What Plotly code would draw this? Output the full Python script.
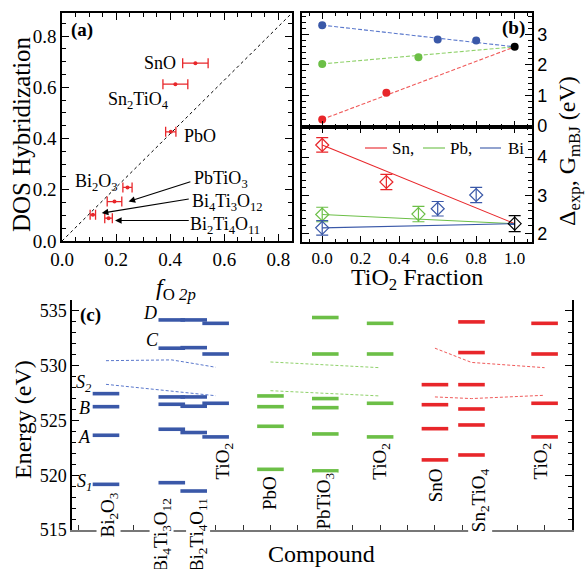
import plotly.graph_objects as go

W, H = 585, 569
SERIF = "Liberation Serif"
SANS = "Liberation Sans"
RED = "#e8262a"
GREEN = "#6cbf47"
BLUE = "#3a58a8"
BLACK = "#000000"
RED_D = "#f05a5a"
GREEN_D = "#8fd16a"
BLUE_D = "#5a78cc"

# ---------------- panel (a) data ----------------
a_names = ["SnO", "Sn<sub>2</sub>TiO<sub>4</sub>", "PbO", "Bi<sub>2</sub>O<sub>3</sub>",
           "PbTiO<sub>3</sub>", "Bi<sub>4</sub>Ti<sub>3</sub>O<sub>12</sub>",
           "Bi<sub>2</sub>Ti<sub>4</sub>O<sub>11</sub>"]
a_fo2p = [0.493, 0.419, 0.402, 0.242, 0.194, 0.114, 0.172]
a_fo2p_err = [0.047, 0.046, 0.019, 0.017, 0.027, 0.010, 0.014]
a_dos = [0.694, 0.612, 0.426, 0.209, 0.154, 0.102, 0.089]
# label text positions (data coords)
a_lab_x = [0.363, 0.283, 0.511, 0.126, 0.589, 0.613, 0.604]
a_lab_y = [0.696, 0.549, 0.409, 0.227, 0.239, 0.149, 0.059]
# arrows: tip (x, y) and tail (ax, ay) for PbTiO3, Bi4Ti3O12, Bi2Ti4O11
arr_tip_x = [0.246, 0.147, 0.196]
arr_tip_y = [0.154, 0.109, 0.080]
arr_tail_x = [0.480, 0.474, 0.474]
arr_tail_y = [0.233, 0.165, 0.080]

# ---------------- panel (b) data ----------------
sn_frac = [0.0, 1 / 3]
sn_gmbj = [0.21, 1.08]
sn_exp = [4.32, 3.35]
sn_err = [0.19, 0.20]
pb_frac = [0.0, 0.5]
pb_gmbj = [2.03, 2.25]
pb_exp = [2.50, 2.51]
pb_err = [0.19, 0.20]
bi_frac = [0.0, 0.6, 0.8]
bi_gmbj = [3.30, 2.83, 2.80]
bi_exp = [2.15, 2.65, 3.01]
bi_err = [0.19, 0.19, 0.20]
tio2_frac = 1.0
tio2_gmbj = 2.59
tio2_exp = 2.26
tio2_err = 0.21
legend_names = ["Sn,", "Pb,", "Bi"]

# ---------------- panel (c) data ----------------
c_labels = ["Bi<sub>2</sub>O<sub>3</sub>", "Bi<sub>4</sub>Ti<sub>3</sub>O<sub>12</sub>",
            "Bi<sub>2</sub>Ti<sub>4</sub>O<sub>11</sub>", "TiO<sub>2</sub>",
            "PbO", "PbTiO<sub>3</sub>", "TiO<sub>2</sub>",
            "SnO", "Sn<sub>2</sub>TiO<sub>4</sub>", "TiO<sub>2</sub>"]
c_group = ["Bi", "Bi", "Bi", "Bi", "Pb", "Pb", "Pb", "Sn", "Sn", "Sn"]
c_tio2_frac = [0.0, 0.6, 0.8, 1.0, 0.0, 0.5, 1.0, 0.0, 1 / 3, 1.0]
group_start = {"Bi": 1, "Pb": 7, "Sn": 13}
c_levels = [
    [527.45, 526.26, 523.65, 519.17],
    [534.18, 531.60, 527.15, 526.48, 524.20, 519.32],
    [534.18, 531.65, 527.15, 526.30, 523.90, 518.56],
    [533.87, 531.07, 526.57, 523.50],
    [527.24, 526.26, 524.47, 520.54],
    [534.40, 531.07, 527.00, 526.17, 523.77, 520.40],
    [533.87, 531.07, 526.57, 523.50],
    [528.27, 526.44, 524.25, 521.40],
    [534.00, 531.20, 528.27, 526.05, 524.59, 521.85],
    [533.87, 531.07, 526.57, 523.50],
]
c_lab_x = [1.11, 3.01, 4.36, 5.31, 6.95, 8.99, 11.04, 13.01, 14.65, 16.91]
c_lab_top = [518.38, 517.92, 517.92, 522.95, 519.93, 520.2, 522.95, 520.66, 520.66, 522.95]
# dashed guide lines (upper, lower) per group, at each compound of the group
c_upper = {"Bi": [530.46, 530.53, 530.20, 529.86],
           "Pb": [530.34, 530.07, 529.82],
           "Sn": [531.60, 530.30, 529.82]}
c_lower = {"Bi": [528.30, 527.70, 527.50, 527.26],
           "Pb": [527.72, 527.48, 527.24],
           "Sn": [527.15, 527.00, 527.30]}
c_letters = ["D", "C", "S<sub>2</sub>", "B", "A", "S<sub>1</sub>"]
c_letter_x = [2.6, 2.7, 0.215, 0.23, 0.23, 0.215]
c_letter_y = [534.77, 532.35, 528.4, 526.14, 523.49, 519.3]

gcol = {"Bi": BLUE, "Pb": GREEN, "Sn": RED}
gdash = {"Bi": BLUE_D, "Pb": GREEN_D, "Sn": RED_D}

fig = go.Figure()

# ---- panel (a) ----
fig.add_trace(go.Scatter(
    x=a_fo2p, y=a_dos, mode="markers", marker=dict(color=RED, size=4),
    error_x=dict(type="data", array=a_fo2p_err, color=RED, thickness=1.3, width=5),
    xaxis="x", yaxis="y", showlegend=False))

# ---- panel (b) top ----
for frac, g, col, dcol in [(sn_frac, sn_gmbj, RED, RED_D), (pb_frac, pb_gmbj, GREEN, GREEN_D),
                           (bi_frac, bi_gmbj, BLUE, BLUE_D)]:
    fig.add_trace(go.Scatter(x=[frac[0], tio2_frac], y=[g[0], tio2_gmbj], mode="lines",
                             line=dict(color=dcol, width=1.1, dash="4px,2px"),
                             xaxis="x2", yaxis="y2", showlegend=False))
for frac, g, col in [(sn_frac, sn_gmbj, RED), (pb_frac, pb_gmbj, GREEN), (bi_frac, bi_gmbj, BLUE)]:
    fig.add_trace(go.Scatter(x=frac, y=g, mode="markers", marker=dict(color=col, size=8),
                             xaxis="x2", yaxis="y2", showlegend=False))
fig.add_trace(go.Scatter(x=[tio2_frac], y=[tio2_gmbj], mode="markers",
                         marker=dict(color=BLACK, size=8), xaxis="x2", yaxis="y2", showlegend=False))

# ---- panel (b) bottom ----
for frac, e, col in [(sn_frac, sn_exp, RED), (pb_frac, pb_exp, GREEN), (bi_frac, bi_exp, BLUE)]:
    fig.add_trace(go.Scatter(x=[frac[0], tio2_frac], y=[e[0], tio2_exp], mode="lines",
                             line=dict(color=col, width=1.1),
                             xaxis="x3", yaxis="y3", showlegend=False))
for frac, e, err, col in [(sn_frac, sn_exp, sn_err, RED), (pb_frac, pb_exp, pb_err, GREEN),
                          (bi_frac, bi_exp, bi_err, BLUE), ([tio2_frac], [tio2_exp], [tio2_err], BLACK)]:
    fig.add_trace(go.Scatter(x=frac, y=e, mode="markers",
                             marker=dict(symbol="diamond-open", size=10, color=col, line=dict(width=1.2, color=col)),
                             error_y=dict(type="data", array=err, color=col, thickness=1.2, width=6),
                             xaxis="x3", yaxis="y3", showlegend=False))

# ---- panel (c) ----
c_pos = [group_start[g] + 4 * f for g, f in zip(c_group, c_tio2_frac)]
for grp in ["Bi", "Pb", "Sn"]:
    xs = [p for p, g in zip(c_pos, c_group) if g == grp]
    for guide in (c_upper[grp], c_lower[grp]):
        fig.add_trace(go.Scatter(x=xs, y=guide, mode="lines",
                                 line=dict(color=gdash[grp], width=1, dash="3px,2px"),
                                 xaxis="x4", yaxis="y4", showlegend=False))
for p, g, lv in zip(c_pos, c_group, c_levels):
    fig.add_trace(go.Scatter(x=[p] * len(lv), y=lv, mode="markers",
                             marker=dict(symbol="line-ew-open", size=19, color=gcol[g],
                                         line=dict(width=3.6, color=gcol[g])),
                             xaxis="x4", yaxis="y4", showlegend=False))

# ---------------- axes ----------------
def dom_x(a, b):
    return [a / W, b / W]


def dom_y(top, bot):
    return [1 - bot / H, 1 - top / H]


common = dict(showline=True, linecolor=BLACK, linewidth=1.5, ticks="inside", tickcolor=BLACK,
              tickwidth=1.2, showgrid=False, zeroline=False)

fig.update_layout(
    width=W, height=H, margin=dict(l=0, r=0, t=0, b=0),
    paper_bgcolor="white", plot_bgcolor="white", template="none", showlegend=False,
    font=dict(family=SERIF, color=BLACK),
    xaxis=dict(domain=dom_x(62, 292), range=[0, 0.85], anchor="y", mirror="ticks", dtick=0.2,
               tickformat=".1f", ticklen=7, tickfont=dict(size=19),
               minor=dict(dtick=0.05, ticklen=4, ticks="inside", tickcolor=BLACK), **common),
    yaxis=dict(domain=dom_y(13, 241), range=[0, 0.89], anchor="x", mirror="ticks", dtick=0.2,
               tickformat=".1f", ticklen=7, tickfont=dict(size=19),
               minor=dict(dtick=0.05, ticklen=4, ticks="inside", tickcolor=BLACK), **common),
    xaxis2=dict(domain=dom_x(302, 532), range=[-0.105, 1.09], anchor="y2", mirror="ticks", dtick=0.2,
                showticklabels=False, ticklen=6,
                minor=dict(dtick=0.2 / 3, ticklen=3.5, ticks="inside", tickcolor=BLACK), **common),
    yaxis2=dict(domain=dom_y(13, 127), range=[-0.04, 3.7], anchor="x2", side="right", mirror="ticks",
                dtick=1, ticklen=7, tickfont=dict(size=18, family=SANS),
                minor=dict(dtick=0.2, ticklen=4, ticks="inside", tickcolor=BLACK), **common),
    xaxis3=dict(domain=dom_x(302, 532), range=[-0.105, 1.09], anchor="y3", mirror="ticks", dtick=0.2,
                tickformat=".1f", ticklen=6, tickfont=dict(size=17),
                minor=dict(dtick=0.2 / 3, ticklen=3.5, ticks="inside", tickcolor=BLACK), **common),
    yaxis3=dict(domain=dom_y(127, 242), range=[1.78, 4.79], anchor="x3", side="right", mirror="ticks",
                dtick=1, ticklen=7, tickfont=dict(size=18, family=SANS),
                minor=dict(dtick=0.2, ticklen=4, ticks="inside", tickcolor=BLACK), **common),
    xaxis4=dict(domain=dom_x(72, 572), range=[-0.24, 18.0], anchor="y4", showline=True,
                linecolor="#777777", linewidth=1.5, ticks="inside", tickcolor="#333333", ticklen=5,
                tickwidth=1.2, dtick=1, tick0=0, showticklabels=False, showgrid=False, zeroline=False),
    yaxis4=dict(domain=dom_y(300, 530), range=[515, 536], anchor="x4", mirror="ticks", dtick=5,
                ticklen=7, tickfont=dict(size=18),
                minor=dict(dtick=1, ticklen=4, ticks="inside", tickcolor=BLACK), **common),
)

# diagonal reference line in panel (a)
fig.add_shape(type="line", xref="x domain", yref="y domain", x0=0, y0=0, x1=1, y1=1,
              line=dict(color=BLACK, width=1, dash="3px,3px"))

ann = []


def txt(text, x, y, xref="paper", yref="paper", size=18, angle=0, **kw):
    d = dict(text=text, x=x, y=y, xref=xref, yref=yref, showarrow=False, textangle=angle,
             font=dict(size=size), xanchor=kw.pop("xanchor", "center"),
             yanchor=kw.pop("yanchor", "middle"))
    d.update(kw)
    ann.append(d)


# manual legend for panel (b) bottom (line samples + names)
leg_y = 1 - 148 / H
for (x0, x1, tx), col, nm in zip([(365, 387, 390), (423, 445, 448), (480, 501, 506)],
                                 [RED, GREEN, BLUE], legend_names):
    fig.add_shape(type="line", xref="paper", yref="paper", x0=x0 / W, x1=x1 / W, y0=leg_y, y1=leg_y,
                  line=dict(color=col, width=1.1))
    txt(nm, tx / W, leg_y, size=17, xanchor="left")

# panel (a) labels
for nm, lx, ly in zip(a_names, a_lab_x, a_lab_y):
    txt(nm, lx, ly, xref="x", yref="y", size=18)
for tx, ty, sx, sy in zip(arr_tip_x, arr_tip_y, arr_tail_x, arr_tail_y):
    ann.append(dict(text="", x=tx, y=ty, ax=sx, ay=sy, xref="x", yref="y", axref="x", ayref="y",
                    showarrow=True, arrowhead=2, arrowsize=1.1, arrowwidth=1.2, arrowcolor=BLACK,
                    standoff=0))
# panel (c) labels
for lab, lx, ly in zip(c_labels, c_lab_x, c_lab_top):
    txt(lab, lx, ly, xref="x4", yref="y4", size=19, angle=-90, yanchor="top",
        bgcolor="white", borderpad=0, borderwidth=0)
for lab, lx, ly in zip(c_letters, c_letter_x, c_letter_y):
    txt("<i>" + lab + "</i>", lx, ly, xref="x4", yref="y4", size=18)
# panel letters
txt("<b>(a)</b>", 82 / W, 1 - 30 / H, size=19)
txt("<b>(b)</b>", 513 / W, 1 - 28 / H, size=19)
txt("<b>(c)</b>", 90 / W, 1 - 315 / H, size=19)
# axis titles
txt("DOS Hybridization", 22 / W, 1 - 134 / H, size=25, angle=-90)
txt("<i>f</i><sub>O <i>2p</i></sub>", 176 / W, 1 - 289 / H, size=24)
txt("TiO<sub>2</sub> Fraction", 417 / W, 1 - 279 / H, size=24)
txt("Δ<sub>exp</sub>, G<sub>mBJ</sub> (eV)", 569 / W, 1 - 151 / H, size=24, angle=-90)
txt("Energy (eV)", 23 / W, 1 - 420 / H, size=24, angle=-90)
txt("Compound", 321 / W, 1 - 554 / H, size=24)
fig.update_layout(annotations=ann)

fig.write_html("out.html", config={"displayModeBar": False},
               post_script="document.body.style.margin='0';document.body.style.overflow='hidden';")
